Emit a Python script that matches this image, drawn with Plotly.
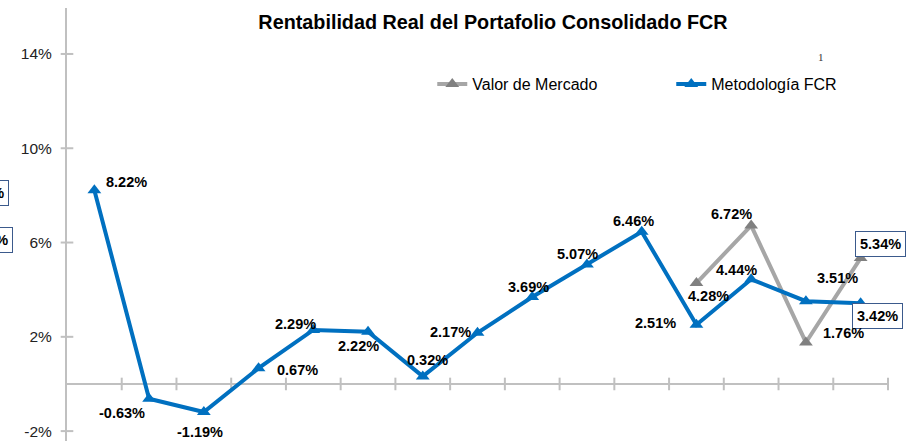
import plotly.graph_objects as go

# ---- data ----
periodos = list(range(1, 16))
metodologia_fcr = [8.22, -0.63, -1.19, 0.67, 2.29, 2.22, 0.32, 2.17, 3.69, 5.07, 6.46, 2.51, 4.44, 3.51, 3.42]
valor_mercado = [None] * 11 + [4.28, 6.72, 1.76, 5.34]
y_ticks = [-2, 2, 6, 10, 14]
y_tick_text = ["-2%", "2%", "6%", "10%", "14%"]

# ---- label offsets (px, screen: +dx right, +dy down) ----
fcr_offsets = [(32, -8), (-27, 14), (-4, 20), (39, 2), (-18, -6), (-10, 14), (5, -16), (-27, -1),
               (-4, -10), (-9, -10), (-8, -11), (-41, -2), (-15, -9), (32, -23), (17, 13)]
vm_offsets = {11: (12, 13), 12: (-20, -12), 13: (38, -9), 14: (20, -14)}
boxed_fcr = {14}
boxed_vm = {14}

BLUE = "#0070C0"
GRAY_LINE = "#A6A6A6"
GRAY_MARK = "#808080"
AXIS = "#C0C0C0"
FONT = "Arial, 'Liberation Sans', sans-serif"

YMIN, YMAX = -2.42, 15.95
n = len(periodos)
xs = list(range(n))

fig = go.Figure()

# axis tick marks (crossing style)
bounds = [i + 0.5 for i in range(n)]
fig.add_trace(go.Scatter(x=bounds, y=[0] * len(bounds), mode="markers",
                         marker=dict(symbol="line-ns", size=9, line=dict(color=AXIS, width=2)),
                         hoverinfo="skip", showlegend=False, cliponaxis=False))
fig.add_trace(go.Scatter(x=[-0.5] * len(y_ticks), y=y_ticks, mode="markers",
                         marker=dict(symbol="line-ew", size=9, line=dict(color=AXIS, width=2)),
                         hoverinfo="skip", showlegend=False, cliponaxis=False))

fig.add_trace(go.Scatter(x=xs, y=valor_mercado, mode="lines+markers", name="Valor de Mercado",
                         line=dict(color=GRAY_LINE, width=4),
                         marker=dict(symbol="triangle-up", size=12, color=GRAY_MARK),
                         cliponaxis=False))
fig.add_trace(go.Scatter(x=xs, y=metodologia_fcr, mode="lines+markers", name="Metodología FCR",
                         line=dict(color=BLUE, width=4),
                         marker=dict(symbol="triangle-up", size=12, color=BLUE),
                         cliponaxis=False))

label_font = dict(family=FONT, size=14.5, color="#000000")


def add_label(x, v, dx, dy, boxed):
    fig.add_annotation(x=x, y=v, text="<b>%.2f%%</b>" % v, showarrow=False,
                       xshift=dx, yshift=-dy, font=label_font,
                       xanchor="center", yanchor="middle",
                       bordercolor="#3B5A8C" if boxed else None, borderwidth=1 if boxed else 0,
                       borderpad=4 if boxed else 0, bgcolor="white" if boxed else None)


for i, v in enumerate(metodologia_fcr):
    dx, dy = fcr_offsets[i]
    add_label(xs[i], v, dx, dy, i in boxed_fcr)
for i, v in enumerate(valor_mercado):
    if v is None:
        continue
    dx, dy = vm_offsets[i]
    add_label(xs[i], v, dx, dy, i in boxed_vm)

# cut-off boxed labels at the left edge
for yy, xr, txt in [(0.5727, -0.0711, "7.48%"), (0.464, -0.0662, "5.93%")]:
    fig.add_annotation(xref="paper", yref="paper", x=xr, y=yy, xanchor="right", yanchor="middle",
                       text="<b>%s</b>" % txt, showarrow=False, font=label_font,
                       bordercolor="#3B5A8C", borderwidth=1, borderpad=4, bgcolor="white")

# small "1" note
fig.add_annotation(xref="paper", yref="paper", x=0.9188, y=0.887, text="1", showarrow=False,
                   xanchor="center", yanchor="middle",
                   font=dict(family="'Liberation Serif', serif", size=11, color="#333333"))

fig.update_layout(
    width=919, height=441,
    margin=dict(l=67, r=31, t=8, b=0),
    paper_bgcolor="white", plot_bgcolor="white",
    title=dict(text="<b>Rentabilidad Real del Portafolio Consolidado FCR</b>",
               x=493 / 919, xanchor="center", y=1 - 21.7 / 441, yanchor="middle",
               font=dict(family=FONT, size=19.8, color="#000000")),
    showlegend=True,
    legend=dict(orientation="h", x=0.4449, y=0.8245, xanchor="left", yanchor="middle",
                font=dict(family=FONT, size=16, color="#000000"),
                entrywidth=194, entrywidthmode="pixels", bgcolor="rgba(0,0,0,0)",
                traceorder="normal"),
    xaxis=dict(range=[-0.5, n - 0.5], showgrid=False, zeroline=False, showline=False,
               showticklabels=False, ticks=""),
    yaxis=dict(range=[YMIN, YMAX], tickvals=y_ticks, ticktext=y_tick_text, showgrid=False,
               showline=True, linecolor=AXIS, linewidth=2, ticks="outside", ticklen=10,
               tickcolor="rgba(0,0,0,0)",
               zeroline=True, zerolinecolor=AXIS, zerolinewidth=2,
               tickfont=dict(family=FONT, size=15.5, color="#222222")),
)

fig.write_html("out.html", config={"displayModeBar": False},
               post_script="document.body.style.margin='0';")
